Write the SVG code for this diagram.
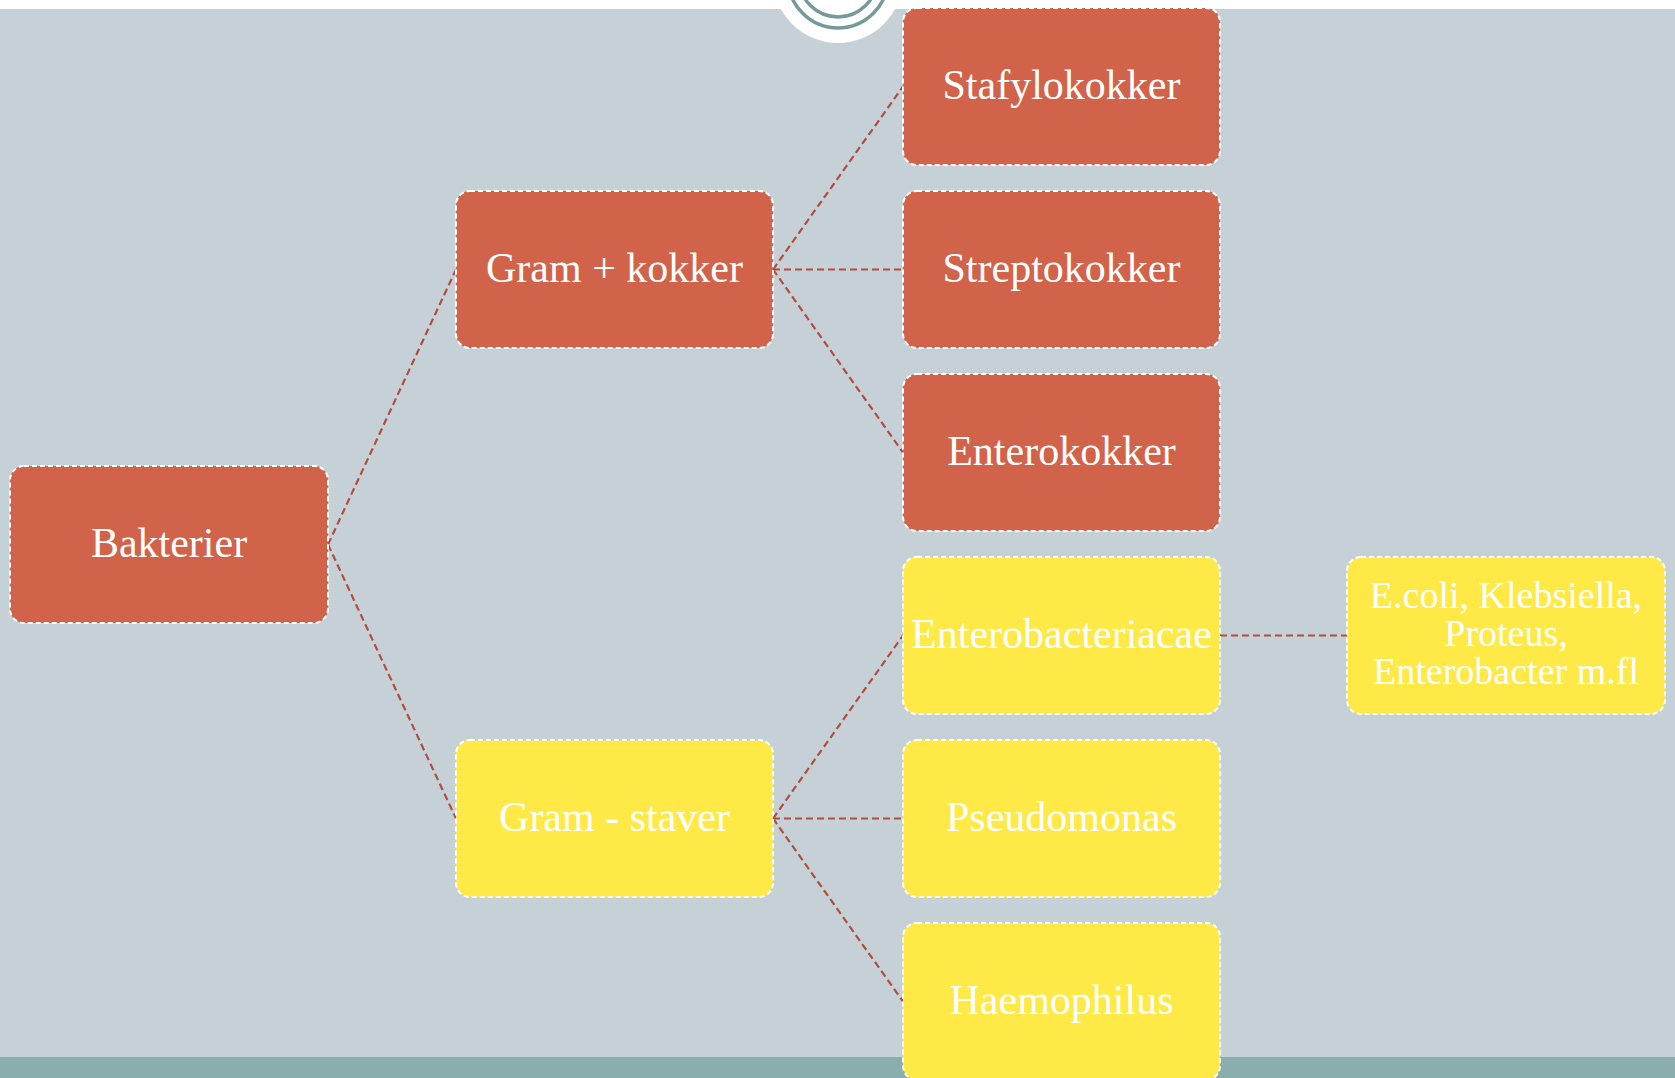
<svg xmlns="http://www.w3.org/2000/svg" width="1675" height="1078" viewBox="0 0 1675 1078">
<style>
.bg{fill:#c5d1d7}
.red{fill:#d1634a;stroke:#ffffff;stroke-width:2;stroke-dasharray:5 3}
.yel{fill:#ffe947;stroke:#ffffff;stroke-width:2;stroke-dasharray:5 3}
.t{font-family:"Liberation Serif","DejaVu Serif",serif;font-size:42px;fill:#ffffff;text-anchor:middle}
.t2{font-family:"Liberation Serif","DejaVu Serif",serif;font-size:38px;fill:#ffffff;text-anchor:middle}
.c{stroke:#b34e3d;stroke-width:2.2;stroke-dasharray:7 4;fill:none}
</style>
<rect x="0" y="0" width="1675" height="1078" fill="#ffffff"/>
<rect class="bg" x="0" y="9" width="1675" height="1048"/>
<rect x="0" y="1057" width="1675" height="21" fill="#8aadad"/>
<circle cx="838" cy="-22" r="65" fill="#ffffff"/>
<circle cx="838" cy="-22" r="50" fill="none" stroke="#76999a" stroke-width="3.5"/>
<circle cx="838" cy="-22" r="39" fill="none" stroke="#76999a" stroke-width="3.5"/>
<g id="connectors">
<line class="c" x1="328" y1="544.5" x2="456" y2="269.5"/>
<line class="c" x1="328" y1="544.5" x2="456" y2="818.5"/>
<line class="c" x1="773" y1="269.5" x2="903" y2="86.5"/>
<line class="c" x1="773" y1="269.5" x2="903" y2="269.5"/>
<line class="c" x1="773" y1="269.5" x2="903" y2="452.5"/>
<line class="c" x1="773" y1="818.5" x2="903" y2="635.5"/>
<line class="c" x1="773" y1="818.5" x2="903" y2="818.5"/>
<line class="c" x1="773" y1="818.5" x2="903" y2="1001.5"/>
<line class="c" x1="1220" y1="635.5" x2="1347" y2="635.5"/>
</g>
<g id="bakterier"><rect class="red" x="10" y="466" width="318" height="157" rx="14"/><text class="t" x="169" y="557">Bakterier</text></g>
<g id="gram-pos"><rect class="red" x="456" y="191" width="317" height="157" rx="14"/><text class="t" x="614.5" y="282">Gram + kokker</text></g>
<g id="gram-neg"><rect class="yel" x="456" y="740" width="317" height="157" rx="14"/><text class="t" x="614.5" y="831">Gram - staver</text></g>
<g id="stafylokokker"><rect class="red" x="903" y="8" width="317" height="157" rx="14"/><text class="t" x="1061.5" y="99">Stafylokokker</text></g>
<g id="streptokokker"><rect class="red" x="903" y="191" width="317" height="157" rx="14"/><text class="t" x="1061.5" y="282">Streptokokker</text></g>
<g id="enterokokker"><rect class="red" x="903" y="374" width="317" height="157" rx="14"/><text class="t" x="1061.5" y="465">Enterokokker</text></g>
<g id="enterobacteriacae"><rect class="yel" x="903" y="557" width="317" height="157" rx="14"/><text class="t" x="1061.5" y="648">Enterobacteriacae</text></g>
<g id="pseudomonas"><rect class="yel" x="903" y="740" width="317" height="157" rx="14"/><text class="t" x="1061.5" y="831">Pseudomonas</text></g>
<g id="haemophilus"><rect class="yel" x="903" y="923" width="317" height="157" rx="14"/><text class="t" x="1061.5" y="1014">Haemophilus</text></g>
<g id="ecoli"><rect class="yel" x="1347" y="557" width="318" height="157" rx="14"/><text class="t2" x="1506" y="608">E.coli, Klebsiella,</text><text class="t2" x="1506" y="646">Proteus,</text><text class="t2" x="1506" y="684">Enterobacter m.fl</text></g>
</svg>
